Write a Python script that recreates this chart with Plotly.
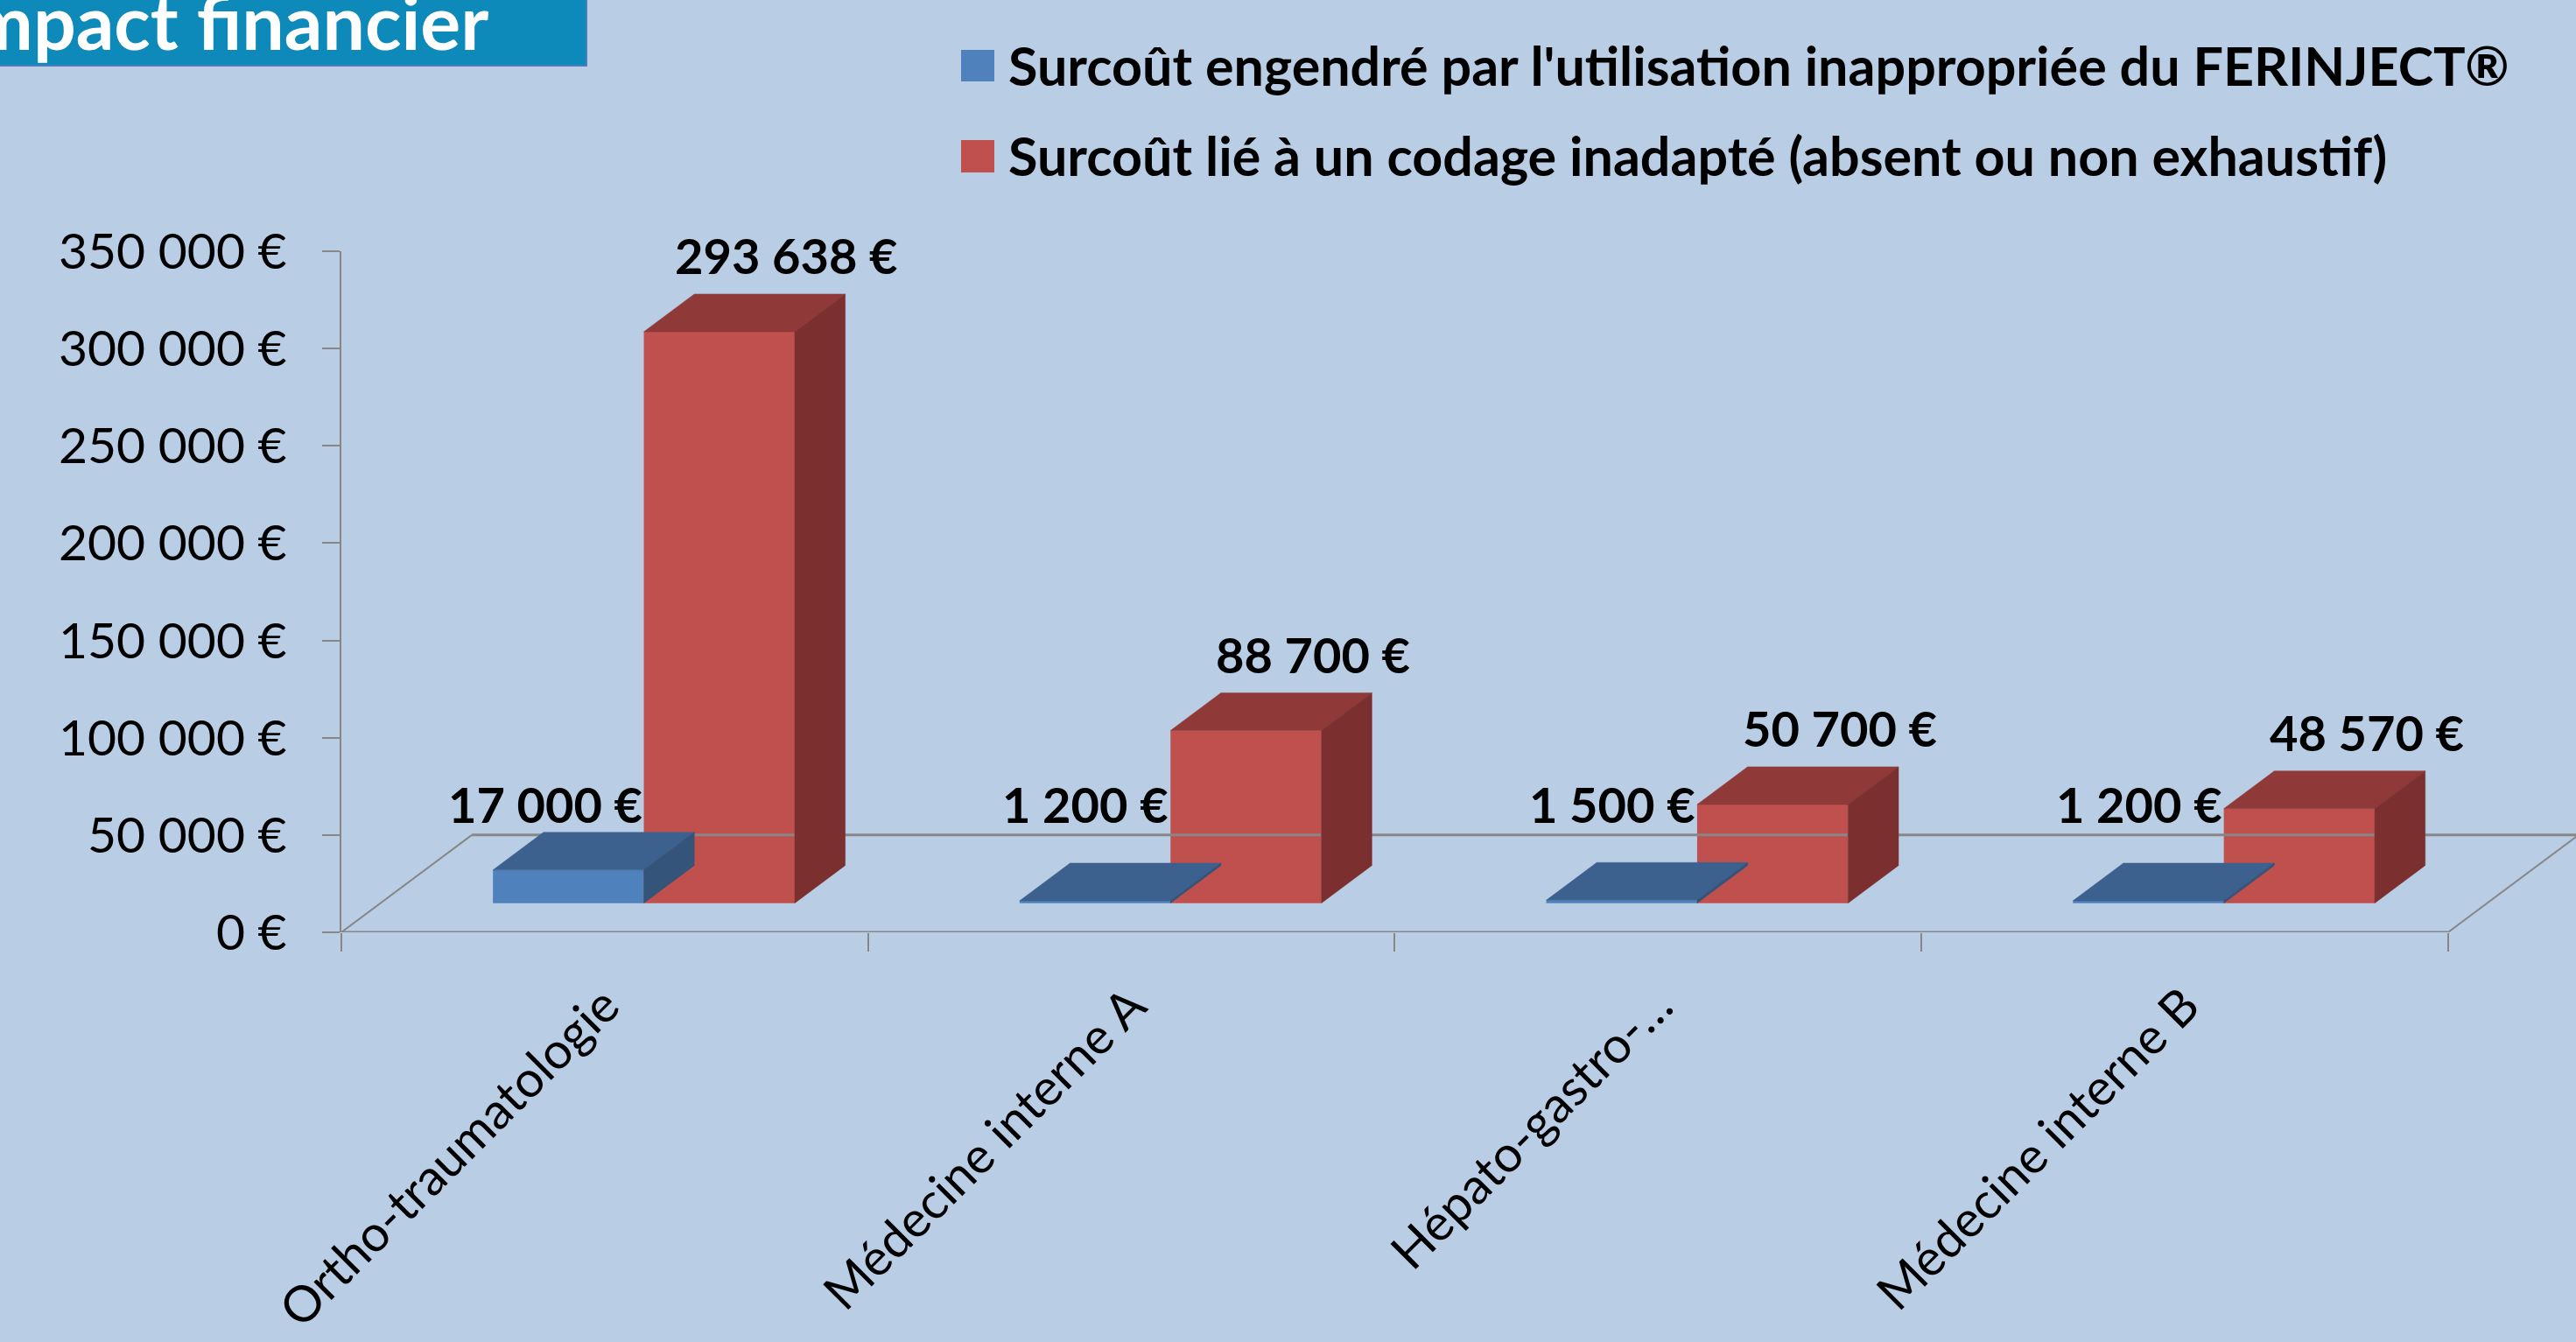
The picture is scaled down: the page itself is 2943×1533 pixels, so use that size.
import plotly.graph_objects as go

# ---------------- data ----------------
categories = ["Ortho-traumatologie", "Médecine interne A", "Hépato-gastro-…", "Médecine interne B"]
surcout_ferinject = [17000, 1200, 1500, 1200]
surcout_codage = [293638, 88700, 50700, 48570]
series_names = [
    "Surcoût engendré par l'utilisation inappropriée du FERINJECT®",
    "Surcoût lié à un codage inadapté (absent ou non exhaustif)",
]
y_tick_values = [0, 50000, 100000, 150000, 200000, 250000, 300000, 350000]
title_text = "Impact financier"

# ---------------- style / geometry ----------------
W, H = 2943, 1533
ML, MT, MB = 390, 287, 468
PLOT_W = W - ML
PLOT_H = H - MT - MB
CAT_PX = 601.7
X_MAX = PLOT_W / CAT_PX
Y_MAX = 350000
FLOOR_DV = 50000          # floor depth expressed in value units
FLOOR_DX = 149 / CAT_PX   # floor depth expressed in category units
FRONT_D = 0.30            # depth of bar front faces (fraction of floor depth)
BAR_D = 0.387             # bar depth (fraction of floor depth)
GROUP_W = 0.573
BAR_W = GROUP_W / 2

BG = "#B9CDE5"
AXIS = "#878787"
FONT = "Lato, 'Open Sans', sans-serif"
front_colors = ["#4F81BD", "#C0504D"]
top_colors = ["#3C618E", "#8F3A38"]
side_colors = ["#345479", "#7B302F"]


def fmt(v):
    return f"{v:,}".replace(",", " ") + " €"


def px2paper_x(px):
    return (px - ML) / PLOT_W


def px2paper_y(py):
    return (H - MB - py) / PLOT_H


fig = go.Figure()

# floor
n = len(categories)
fig.add_trace(go.Scatter(x=[0, n], y=[0, 0], mode="lines",
                         line=dict(color=AXIS, width=3), hoverinfo="skip", showlegend=False))
fig.add_trace(go.Scatter(x=[FLOOR_DX, n + FLOOR_DX], y=[FLOOR_DV, FLOOR_DV], mode="lines",
                         line=dict(color=AXIS, width=3), hoverinfo="skip", showlegend=False))
fig.add_trace(go.Scatter(x=[0, FLOOR_DX, None, n, n + FLOOR_DX],
                         y=[0, FLOOR_DV, None, 0, FLOOR_DV], mode="lines",
                         line=dict(color=AXIS, width=2), hoverinfo="skip", showlegend=False))

base = FRONT_D * FLOOR_DV
dx = BAR_D * FLOOR_DX
dv = BAR_D * FLOOR_DV
annotations = []

for s, vals in enumerate([surcout_ferinject, surcout_codage]):
    xs = [i + 0.5 + FRONT_D * FLOOR_DX + (s - 0.5) * BAR_W for i in range(n)]
    # front faces
    fig.add_trace(go.Bar(x=xs, y=vals, base=[base] * n, width=BAR_W, name=series_names[s],
                         marker=dict(color=front_colors[s], line=dict(width=0)),
                         hoverinfo="skip", showlegend=False))
    # top and side faces
    tx, ty, sx, sy = [], [], [], []
    for xc, v in zip(xs, vals):
        x0, x1 = xc - BAR_W / 2, xc + BAR_W / 2
        yt = base + v
        tx += [x0, x1, x1 + dx, x0 + dx, x0, None]
        ty += [yt, yt, yt + dv, yt + dv, yt, None]
        sx += [x1, x1 + dx, x1 + dx, x1, x1, None]
        sy += [base, base + dv, yt + dv, yt, base, None]
    fig.add_trace(go.Scatter(x=tx, y=ty, mode="lines", fill="toself", fillcolor=top_colors[s],
                             line=dict(color=top_colors[s], width=0.5), hoverinfo="skip",
                             showlegend=False))
    fig.add_trace(go.Scatter(x=sx, y=sy, mode="lines", fill="toself", fillcolor=side_colors[s],
                             line=dict(color=side_colors[s], width=0.5), hoverinfo="skip",
                             showlegend=False))
    # data labels
    for xc, v in zip(xs, vals):
        if s == 0:
            annotations.append(dict(x=xc + BAR_W / 2, y=66000, xref="x", yref="y",
                                    text=fmt(v), showarrow=False, xanchor="right",
                                    yanchor="middle",
                                    font=dict(family=FONT, size=56, color="black", weight="bold")))
        else:
            annotations.append(dict(x=xc, y=base + v + dv, xref="x", yref="y",
                                    text=fmt(v), showarrow=False, xanchor="center",
                                    yanchor="middle", xshift=77, yshift=44,
                                    font=dict(family=FONT, size=56, color="black", weight="bold")))

# legend (manual)
shapes = []
legend_rows = [(57, 93), (160, 197)]
for s, (y0, y1) in enumerate(legend_rows):
    shapes.append(dict(type="rect", xref="paper", yref="paper",
                       x0=px2paper_x(1098), x1=px2paper_x(1136),
                       y0=px2paper_y(y1), y1=px2paper_y(y0),
                       fillcolor=front_colors[s], line=dict(width=0)))
    annotations.append(dict(x=px2paper_x(1150), y=px2paper_y((y0 + y1) / 2 - 1), xref="paper",
                            yref="paper", text=series_names[s], showarrow=False,
                            xanchor="left", yanchor="middle",
                            font=dict(family=FONT, size=61, color="black", weight="bold")))

# title box
shapes.append(dict(type="rect", xref="paper", yref="paper",
                   x0=px2paper_x(-20), x1=px2paper_x(670), y0=px2paper_y(75), y1=px2paper_y(-20),
                   fillcolor="#0E8ABA", line=dict(color="#4A7EBB", width=2)))
annotations.append(dict(x=px2paper_x(560), y=px2paper_y(24), xref="paper", yref="paper",
                        text=title_text, showarrow=False, xanchor="right", yanchor="middle",
                        font=dict(family=FONT, size=86, color="white", weight="bold")))

fig.update_layout(
    width=W, height=H, autosize=False,
    margin=dict(l=ML, r=0, t=MT, b=MB, pad=0, autoexpand=False),
    paper_bgcolor=BG, plot_bgcolor=BG,
    barmode="overlay",
    font=dict(family=FONT, size=53, color="black"),
    shapes=shapes,
    annotations=annotations,
    showlegend=False,
    xaxis=dict(range=[0, X_MAX], tickmode="array", automargin=False,
               tickvals=[i + 0.5 for i in range(n)], ticktext=categories,
               tickangle=-45, ticks="", showgrid=False, zeroline=False, showline=False,
               ticklabelstandoff=38,
               tickfont=dict(family=FONT, size=57, color="black"),
               minor=dict(tickmode="array", tickvals=list(range(n + 1)), ticks="outside",
                          ticklen=21, tickwidth=2, tickcolor=AXIS, showgrid=False)),
    yaxis=dict(range=[0, Y_MAX], tickmode="array", tickvals=y_tick_values, automargin=False,
               ticktext=[fmt(v) for v in y_tick_values],
               ticks="outside", ticklen=20, tickwidth=2,
               tickcolor=AXIS, showline=True, linecolor=AXIS, linewidth=2,
               showgrid=False, zeroline=False, ticklabelstandoff=29,
               tickfont=dict(family=FONT, size=57, color="black")),
)

fig.write_html("out.html", config={"displayModeBar": False},
               post_script="document.body.style.margin='0';document.body.style.overflow='hidden';")
